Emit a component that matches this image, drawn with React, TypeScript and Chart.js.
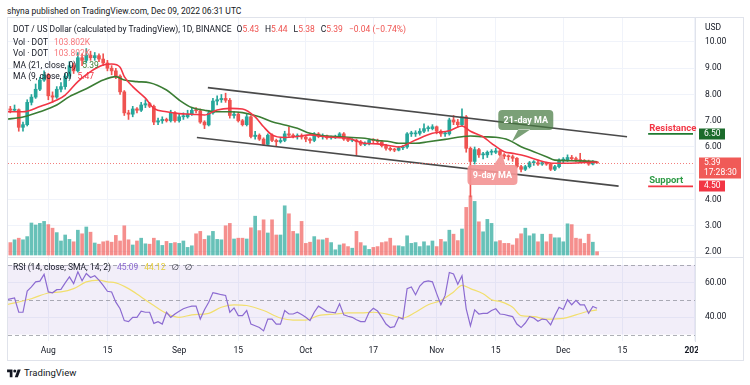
import React, { useEffect, useRef } from 'react';
import { Chart, registerables } from 'chart.js';

Chart.register(...registerables);

// ---------- DATA (days counted from Aug 1, 2022 = 0; first candle Jul 22, 2022) ----------
const FIRST_DAY = -10;
const FIRST_OPEN = 7.5;

const closes = [
  7.45, 7.40, 7.42, 6.75, 6.85, 7.70, 7.90, 8.20, 8.55, 8.75,
  7.95, 7.90, 8.20, 8.30, 8.70, 9.10, 8.90, 9.40, 9.30, 9.50,
  9.40, 9.48, 9.35, 9.20, 9.00, 8.90, 8.70, 8.10, 7.30, 7.25,
  7.45, 7.40, 7.60, 7.65, 7.55, 6.95, 7.00, 7.05, 7.00, 7.30,
  7.00, 7.15, 7.15, 7.25, 7.40, 7.38, 6.95, 6.84, 7.30, 7.75,
  7.80, 7.85, 7.78, 7.20, 7.25, 7.00, 6.85, 7.15, 6.40, 6.45,
  6.30, 6.10, 6.45, 6.25, 6.20, 6.25, 6.50, 6.45, 6.40, 6.42,
  6.38, 6.30, 6.25, 6.50, 6.40, 6.42, 6.35, 6.36, 6.40, 6.50,
  6.30, 6.25, 6.26, 6.20, 6.10, 6.12, 6.25, 6.24, 6.20, 6.05,
  5.95, 5.90, 5.88, 5.97, 6.00, 6.50, 6.50, 6.52, 6.60, 6.70,
  6.70, 6.77, 6.60, 6.50, 6.50, 7.03, 6.95, 6.85, 7.15, 5.95,
  5.45, 5.90, 5.70, 5.70, 5.80, 5.80, 5.85, 5.70, 5.65, 5.63,
  5.57, 5.25, 5.15, 5.25, 5.40, 5.40, 5.35, 5.40, 5.35, 5.15,
  5.25, 5.50, 5.50, 5.60, 5.55, 5.52, 5.47, 5.45, 5.35, 5.43,
  5.39,
];

const highs = [
  7.55, 7.55, 7.60, 7.45, 6.95, 7.80, 8.00, 8.40, 8.65, 8.90,
  8.80, 8.10, 8.30, 8.45, 8.80, 9.25, 9.20, 9.60, 9.55, 9.75,
  9.65, 9.60, 9.55, 9.55, 9.30, 9.10, 9.00, 8.75, 8.15, 7.40,
  7.55, 7.50, 7.70, 7.80, 7.70, 7.60, 7.10, 7.15, 7.10, 7.40,
  7.35, 7.25, 7.30, 7.40, 7.50, 7.50, 7.45, 7.00, 7.40, 7.85,
  7.95, 8.00, 8.05, 7.85, 7.35, 7.30, 7.05, 7.25, 7.20, 6.60,
  6.50, 6.35, 6.50, 6.50, 6.30, 6.35, 6.60, 6.77, 6.50, 6.50,
  6.50, 6.42, 6.35, 6.55, 6.55, 6.50, 6.45, 6.42, 6.45, 6.55,
  6.55, 6.35, 6.32, 6.30, 6.25, 6.20, 6.30, 6.32, 6.30, 6.25,
  6.10, 6.00, 5.95, 6.02, 6.05, 6.55, 6.60, 6.62, 6.70, 6.88,
  6.80, 6.85, 6.80, 6.65, 6.60, 7.10, 7.20, 7.05, 7.45, 7.20,
  6.00, 6.00, 5.95, 5.80, 5.85, 5.90, 5.95, 5.90, 5.75, 5.70,
  5.70, 5.60, 5.30, 5.30, 5.45, 5.48, 5.45, 5.45, 5.42, 5.38,
  5.30, 5.55, 5.60, 5.70, 5.68, 5.62, 5.76, 5.52, 5.50, 5.48,
  5.44,
];

const lows = [
  7.35, 7.30, 7.35, 6.60, 6.60, 6.80, 7.60, 7.85, 8.15, 8.50,
  7.80, 7.70, 7.85, 8.10, 8.20, 8.60, 8.80, 8.85, 9.10, 9.20,
  9.30, 9.30, 9.25, 9.10, 8.90, 8.75, 8.60, 8.00, 7.20, 7.05,
  7.15, 7.30, 7.35, 7.50, 7.50, 6.85, 6.85, 6.90, 6.95, 6.95,
  6.95, 6.95, 7.05, 7.10, 7.20, 7.30, 6.90, 6.70, 6.80, 7.25,
  7.60, 7.70, 7.70, 7.10, 7.10, 6.95, 6.80, 6.80, 6.35, 6.30,
  6.25, 6.05, 6.05, 6.20, 6.05, 6.15, 6.20, 6.40, 6.35, 6.30,
  6.30, 6.20, 6.15, 6.20, 6.35, 6.30, 6.30, 6.30, 6.32, 6.35,
  6.25, 6.20, 6.20, 5.68, 6.05, 6.05, 6.08, 6.15, 6.12, 6.00,
  5.88, 5.85, 5.82, 5.85, 5.90, 5.95, 6.40, 6.40, 6.45, 6.55,
  6.60, 6.65, 6.50, 6.40, 6.40, 6.45, 6.85, 6.75, 6.80, 5.80,
  4.10, 5.35, 5.60, 5.55, 5.60, 5.70, 5.75, 5.65, 5.55, 5.50,
  5.45, 5.20, 5.05, 5.10, 5.20, 5.30, 5.30, 5.30, 5.30, 5.10,
  5.10, 5.20, 5.40, 5.45, 5.50, 5.45, 5.40, 5.40, 5.30, 5.32,
  5.38,
];

// volume in thousands of DOT
const volumesK = [
  525, 388, 475, 525, 475, 575, 1000, 938, 988, 1050,
  950, 838, 700, 438, 625, 488, 413, 775, 663, 875,
  713, 375, 338, 413, 438, 400, 613, 438, 913, 475,
  313, 438, 525, 350, 338, 525, 450, 300, 425, 363,
  388, 363, 438, 238, 288, 663, 738, 488, 600, 738,
  488, 475, 913, 988, 500, 525, 525, 500, 850, 1213,
  763, 1100, 688, 1100, 625, 625, 1538, 1288, 738, 663,
  1050, 363, 400, 575, 475, 475, 525, 388, 163, 313,
  350, 263, 213, 738, 388, 288, 175, 238, 263, 388,
  413, 525, 288, 288, 263, 600, 363, 388, 263, 413,
  288, 438, 263, 488, 413, 775, 650, 450, 813, 1488,
  1850, 1675, 1038, 725, 1113, 988, 413, 450, 363, 363,
  313, 513, 663, 838, 600, 663, 413, 650, 413, 650,
  538, 538, 413, 975, 950, 525, 500, 363, 650, 400,
  103.802,
];

const rsiValues = [
  50, 50.5, 51, 42.8, 42.8, 55, 57.4, 60.3, 60.7, 64.6,
  54.5, 54, 55.8, 56, 59.7, 63.2, 59.3, 66.1, 60.9, 65.1,
  62.8, 63.8, 61.3, 58.3, 54.9, 54.5, 48.6, 44.8, 38, 37.4,
  39.9, 39.9, 43.4, 42.8, 42.8, 36.4, 37.4, 36, 42.8, 39.9,
  41.8, 43.4, 44.8, 45.7, 46.3, 46.3, 38.9, 44.2, 48.6, 54.1,
  53.5, 52.9, 52.5, 42.8, 45.3, 40.9, 40.9, 43.8, 36, 35,
  34, 32.1, 38.9, 38.9, 36, 36, 43.8, 41.8, 41.8, 42.8,
  41.5, 39.9, 38, 42.8, 46.3, 44.8, 43.2, 42.8, 42.4, 47.7,
  41.3, 40.5, 39.9, 38.5, 37.4, 37.4, 42.8, 45.1, 43.5, 40,
  36, 34, 34.5, 39.9, 38.9, 56.4, 57.4, 52.9, 57.9, 60.3,
  60.9, 60.3, 53.5, 47.1, 52.5, 65.7, 64.8, 58.9, 63.8, 44.8,
  35, 44.2, 41.8, 42.2, 42.2, 43.8, 44.8, 41.8, 41.5, 40.9,
  40.3, 36, 34, 36.6, 40.3, 39.5, 37.6, 38.9, 38.5, 35.6,
  40.9, 45.7, 44.4, 50, 47.1, 49.6, 47.1, 47.1, 42.2, 46.1,
  45.09,
];

const rsiSmaDays = [
  -10, -4, 0, 3, 6, 9, 12, 14, 16, 19,
  22, 25, 28, 31, 34, 38, 41, 44, 47, 51,
  55, 58, 61, 64, 68, 71, 74, 77, 81, 84,
  87, 90, 93, 96, 98, 100, 103, 105, 107, 110,
  112, 115, 118, 122, 125, 128, 130,
];
const rsiSmaValues = [
  47.1, 50.6, 53.9, 54.5, 56.4, 60.3, 61.3, 60.3, 59.7, 56.4,
  51.6, 46.7, 42.2, 39.9, 41.3, 42.2, 45.7, 47.1, 46.7, 43.8,
  39.5, 38.3, 38.3, 40.9, 41.8, 42.4, 42.4, 42.8, 41.3, 39.5,
  42.8, 47.1, 49.6, 54.5, 58.3, 56.4, 53.5, 50.0, 49.0, 45.7,
  40.9, 40.3, 38.9, 39.3, 41.3, 43.4, 44.12,
];

const ma9Days = [
  -10, -6, -2, 2, 4, 7, 10, 13, 15, 17,
  18, 20, 23, 25, 28, 31, 34, 37, 40, 43,
  46, 49, 51, 53, 56, 59, 62, 65, 68, 71,
  75, 78, 81, 83, 87, 91, 95, 98, 100, 103,
  105, 108, 110, 113, 116, 120, 123, 126, 130,
];
const ma9Values = [
  7.34, 7.34, 7.54, 7.79, 7.98, 8.49, 8.87, 9.12, 9.16, 9.04,
  8.68, 8.30, 7.86, 7.47, 7.34, 7.27, 7.25, 7.22, 7.41, 7.47,
  7.45, 7.15, 6.77, 6.46, 6.36, 6.40, 6.46, 6.40, 6.36, 6.33,
  6.14, 6.12, 6.05, 6.00, 6.27, 6.52, 6.62, 6.80, 6.60, 6.39,
  6.14, 5.82, 5.76, 5.66, 5.50, 5.38, 5.38, 5.40, 5.43,
];

const ma21Days = [
  -10, -6, -2, 2, 5, 9, 13, 16, 18, 21,
  24, 28, 31, 34, 37, 40, 43, 46, 50, 53,
  56, 59, 62, 65, 68, 72, 75, 78, 81, 83,
  87, 90, 94, 98, 100, 103, 106, 109, 112, 115,
  118, 120, 123, 126, 130,
];
const ma21Values = [
  7.06, 7.14, 7.34, 7.60, 7.92, 8.22, 8.55, 8.68, 8.55, 8.49,
  8.45, 8.17, 7.79, 7.50, 7.40, 7.34, 7.34, 7.31, 7.15, 6.96,
  6.84, 6.71, 6.52, 6.43, 6.40, 6.36, 6.33, 6.25, 6.20, 6.14,
  6.14, 6.20, 6.29, 6.39, 6.42, 6.39, 6.37, 6.27, 6.01, 5.82,
  5.63, 5.50, 5.48, 5.47, 5.44,
];

const channelUpperDays = [37.8, 137.1];
const channelUpperPrices = [8.26, 6.39];
const channelLowerDays = [35.2, 135.1];
const channelLowerPrices = [6.36, 4.51];

const timeTickDays = [0, 14, 31, 45, 61, 77, 92, 106, 122, 136, 153];
const timeTickLabels = ['Aug', '15', 'Sep', '15', 'Oct', '17', 'Nov', '15', 'Dec', '15', '2023'];
const priceTicks = [2, 3, 4, 5, 6, 7, 8, 9, 10];
const rsiTicks = [40, 60];
const rsiBandLevels = [70, 50, 30];

const RESISTANCE = 6.5;
const SUPPORT = 4.5;
const LEVEL_START_DAY = 142.1;
const COUNTDOWN = '17:28:30';
const MA21_LEGEND = '5.39';
const MA9_LEGEND = '5.47';

const CALLOUT_21 = { day: 106.6, price: 7.41, tipDay: 109.8, tipPrice: 6.2, text: '21-day MA' };
const CALLOUT_9 = { day: 99.3, price: 5.31, tipDay: 107.4, tipPrice: 5.76, text: '9-day MA' };

// ---------- derived ----------
const days = closes.map((_, i) => FIRST_DAY + i);
const opens = closes.map((_, i) => (i === 0 ? FIRST_OPEN : closes[i - 1]));
const isUp = closes.map((c, i) => c >= opens[i]);

// ---------- layout / style ----------
const FONT = "Roboto, 'DejaVu Sans', sans-serif";
const X_MIN = -9.55;
const X_MAX = 153.2;
const PRICE_MIN = 1.809;
const PRICE_MAX = 10.914;
const VOL_MIN = -62.5;
const VOL_MAX = 7406.25;
const RSI_MIN = 26.26;
const RSI_MAX = 74.03;
const AXIS_W = 48;

const UP = '#26a69a';
const DOWN = '#ef5350';
const VOL_UP = 'rgba(38,166,154,0.7)';
const VOL_DOWN = 'rgba(239,83,80,0.65)';
const GRID = '#f0f3fa';
const BORDER = '#e0e3eb';
const TEXT = '#131722';

Chart.defaults.font.family = FONT;
Chart.defaults.color = TEXT;

function rrPath(ctx: CanvasRenderingContext2D, x: number, y: number, w: number, h: number, r: number) {
  ctx.moveTo(x + r, y);
  ctx.lineTo(x + w - r, y);
  ctx.arcTo(x + w, y, x + w, y + r, r);
  ctx.lineTo(x + w, y + h - r);
  ctx.arcTo(x + w, y + h, x + w - r, y + h, r);
  ctx.lineTo(x + r, y + h);
  ctx.arcTo(x, y + h, x, y + h - r, r);
  ctx.lineTo(x, y + r);
  ctx.arcTo(x, y, x + r, y, r);
  ctx.closePath();
}

function drawCallout(
  ctx: CanvasRenderingContext2D, bx: number, by: number, w: number, h: number,
  tipX: number, tipY: number, baseFrom: number, baseTo: number, onTop: boolean,
  fill: string, text: string,
) {
  ctx.beginPath();
  rrPath(ctx, bx, by, w, h, 4);
  const ey = onTop ? by + 0.5 : by + h - 0.5;
  ctx.moveTo(bx + baseFrom, ey);
  ctx.lineTo(tipX, tipY);
  ctx.lineTo(bx + baseTo, ey);
  ctx.closePath();
  ctx.fillStyle = fill;
  ctx.fill();
  ctx.fillStyle = '#ffffff';
  ctx.font = `bold 9px ${FONT}`;
  ctx.textAlign = 'center';
  ctx.textBaseline = 'middle';
  ctx.fillText(text, bx + w / 2, by + h / 2 + 0.5);
}

function drawTag(ctx: CanvasRenderingContext2D, x: number, y: number, w: number, h: number, fill: string, lines: string[]) {
  ctx.fillStyle = fill;
  ctx.fillRect(x, y, w, h);
  ctx.fillStyle = '#ffffff';
  ctx.font = `8.5px ${FONT}`;
  ctx.textAlign = 'left';
  ctx.textBaseline = 'middle';
  lines.forEach((t, i) => ctx.fillText(t, x + 5, y + 5.5 + i * 10));
}

const priceOverlay = {
  id: 'priceOverlay',
  afterDatasetsDraw(chart: any) {
    const { ctx, chartArea, scales } = chart;
    const x = scales.x;
    const y = scales.y;
    ctx.save();
    ctx.beginPath();
    ctx.rect(chartArea.left, chartArea.top, chartArea.right - chartArea.left, chartArea.bottom - chartArea.top);
    ctx.clip();

    // last price dotted line
    const lp = y.getPixelForValue(closes[closes.length - 1]);
    ctx.setLineDash([1, 2]);
    ctx.strokeStyle = 'rgba(239,83,80,0.75)';
    ctx.lineWidth = 1;
    ctx.beginPath();
    ctx.moveTo(chartArea.left, Math.round(lp) + 0.5);
    ctx.lineTo(chartArea.right, Math.round(lp) + 0.5);
    ctx.stroke();
    ctx.setLineDash([]);

    // resistance / support levels
    const lx = x.getPixelForValue(LEVEL_START_DAY);
    const ry = y.getPixelForValue(RESISTANCE);
    const sy = y.getPixelForValue(SUPPORT);
    ctx.lineWidth = 1.6;
    ctx.strokeStyle = '#1f7a30';
    ctx.beginPath();
    ctx.moveTo(lx, ry);
    ctx.lineTo(chartArea.right - 2, ry);
    ctx.stroke();
    ctx.strokeStyle = '#f23645';
    ctx.beginPath();
    ctx.moveTo(lx, sy);
    ctx.lineTo(chartArea.right - 2, sy);
    ctx.stroke();

    // callouts
    const c21x = x.getPixelForValue(CALLOUT_21.day);
    const c21y = y.getPixelForValue(CALLOUT_21.price);
    drawCallout(ctx, c21x, c21y, 55, 20,
      x.getPixelForValue(CALLOUT_21.tipDay), y.getPixelForValue(CALLOUT_21.tipPrice),
      20, 32, false, 'rgba(72,124,66,0.72)', CALLOUT_21.text);
    const c9x = x.getPixelForValue(CALLOUT_9.day);
    const c9y = y.getPixelForValue(CALLOUT_9.price);
    drawCallout(ctx, c9x, c9y, 50, 20,
      x.getPixelForValue(CALLOUT_9.tipDay), y.getPixelForValue(CALLOUT_9.tipPrice),
      26, 38, true, 'rgba(243,150,150,0.92)', CALLOUT_9.text);
    ctx.restore();

    // level labels (may run slightly past the plot edge)
    ctx.save();
    ctx.font = `bold 9.5px ${FONT}`;
    ctx.textAlign = 'left';
    ctx.textBaseline = 'alphabetic';
    ctx.fillStyle = '#f23645';
    ctx.fillText('Resistance', lx + 1, ry - 3);
    ctx.fillStyle = '#2e9b46';
    ctx.fillText('Support', lx + 1, sy - 3);
    ctx.restore();
  },
  afterDraw(chart: any) {
    const { ctx, scales } = chart;
    const y = scales.y;
    const ax = y.left + 4;
    ctx.save();
    ctx.fillStyle = TEXT;
    ctx.font = `8.5px ${FONT}`;
    ctx.textAlign = 'left';
    ctx.textBaseline = 'middle';
    ctx.fillText('USD', y.left + 10, 10);
    drawTag(ctx, ax, Math.round(y.getPixelForValue(RESISTANCE)) - 5.5, 26, 11, '#1b6b2b', [RESISTANCE.toFixed(2)]);
    drawTag(ctx, ax, Math.round(y.getPixelForValue(closes[closes.length - 1])) - 5.5, 42, 21, '#f05a57',
      [closes[closes.length - 1].toFixed(2), COUNTDOWN]);
    drawTag(ctx, ax, Math.round(y.getPixelForValue(SUPPORT)) - 5.5, 26, 11, '#f23645', [SUPPORT.toFixed(2)]);
    ctx.restore();
  },
};

const rsiOverlay = {
  id: 'rsiOverlay',
  beforeDatasetsDraw(chart: any) {
    const { ctx, chartArea, scales } = chart;
    const y = scales.y;
    const top = y.getPixelForValue(rsiBandLevels[0]);
    const bot = y.getPixelForValue(rsiBandLevels[2]);
    ctx.save();
    ctx.fillStyle = 'rgba(126,87,194,0.1)';
    ctx.fillRect(chartArea.left, top, chartArea.right - chartArea.left, bot - top);
    ctx.strokeStyle = 'rgba(120,123,134,0.6)';
    ctx.lineWidth = 1;
    ctx.setLineDash([4, 3]);
    rsiBandLevels.forEach((lv) => {
      const py = Math.round(y.getPixelForValue(lv)) + 0.5;
      ctx.beginPath();
      ctx.moveTo(chartArea.left, py);
      ctx.lineTo(chartArea.right, py);
      ctx.stroke();
    });
    ctx.restore();
  },
  afterDraw(chart: any) {
    const { ctx, chartArea, width, height } = chart;
    ctx.save();
    ctx.fillStyle = '#ffffff';
    ctx.fillRect(chartArea.right + 3, chartArea.bottom + 1, width - chartArea.right - 3, height - chartArea.bottom - 1);
    ctx.restore();
  },
};

const xAxisBase = {
  type: 'linear' as const,
  min: X_MIN,
  max: X_MAX,
  offset: false,
  grid: { color: GRID, drawTicks: false, offset: false },
  border: { display: false },
  afterBuildTicks: (s: any) => { s.ticks = timeTickDays.map((v) => ({ value: v })); },
};

export default function App() {
  const priceRef = useRef<HTMLCanvasElement>(null);
  const rsiRef = useRef<HTMLCanvasElement>(null);

  useEffect(() => {
    const candleColors = isUp.map((u) => (u ? UP : DOWN));
    const priceChart = new Chart(priceRef.current as HTMLCanvasElement, {
      type: 'bar',
      data: {
        datasets: [
          {
            type: 'bar', label: 'Volume', yAxisID: 'yv',
            data: days.map((d, i) => ({ x: d, y: volumesK[i] })) as any,
            backgroundColor: isUp.map((u) => (u ? VOL_UP : VOL_DOWN)),
            maxBarThickness: 3, barPercentage: 1, categoryPercentage: 1, grouped: false, borderWidth: 0, order: 10,
          },
          {
            type: 'bar', label: 'Wicks', yAxisID: 'y',
            data: days.map((d, i) => ({ x: d, y: [lows[i], highs[i]] })) as any,
            backgroundColor: candleColors,
            maxBarThickness: 1, barPercentage: 1, categoryPercentage: 1, grouped: false, borderWidth: 0, order: 6,
          },
          {
            type: 'bar', label: 'Bodies', yAxisID: 'y',
            data: days.map((d, i) => ({ x: d, y: [opens[i], closes[i]] })) as any,
            backgroundColor: candleColors,
            maxBarThickness: 3, barPercentage: 1, categoryPercentage: 1, grouped: false, borderWidth: 0,
            minBarLength: 1, order: 5,
          },
          {
            type: 'line', label: 'MA 21', yAxisID: 'y',
            data: ma21Days.map((d, i) => ({ x: d, y: ma21Values[i] })) as any,
            borderColor: '#3b7d34', borderWidth: 1.6, pointRadius: 0, cubicInterpolationMode: 'monotone', order: 4,
          },
          {
            type: 'line', label: 'MA 9', yAxisID: 'y',
            data: ma9Days.map((d, i) => ({ x: d, y: ma9Values[i] })) as any,
            borderColor: '#f23645', borderWidth: 1.6, pointRadius: 0, cubicInterpolationMode: 'monotone', order: 3,
          },
          {
            type: 'line', label: 'Channel top', yAxisID: 'y',
            data: channelUpperDays.map((d, i) => ({ x: d, y: channelUpperPrices[i] })) as any,
            borderColor: '#4a4a4a', borderWidth: 1.6, pointRadius: 0, order: 2,
          },
          {
            type: 'line', label: 'Channel bottom', yAxisID: 'y',
            data: channelLowerDays.map((d, i) => ({ x: d, y: channelLowerPrices[i] })) as any,
            borderColor: '#4a4a4a', borderWidth: 1.6, pointRadius: 0, order: 2,
          },
        ] as any,
      },
      options: {
        responsive: false,
        animation: false,
        devicePixelRatio: 1,
        layout: { padding: 0, autoPadding: false } as any,
        plugins: { legend: { display: false }, tooltip: { enabled: false } },
        scales: {
          x: {
            ...xAxisBase,
            ticks: { display: false },
            afterFit: (s: any) => { s.height = 0; s.paddingLeft = 0; s.paddingRight = 0; },
          } as any,
          y: {
            type: 'linear', position: 'right', min: PRICE_MIN, max: PRICE_MAX,
            grid: { color: GRID, drawTicks: false },
            border: { display: true, color: BORDER },
            ticks: { padding: 10, color: TEXT, font: { size: 8.5 }, callback: (v: any) => Number(v).toFixed(2) },
            afterBuildTicks: (s: any) => { s.ticks = priceTicks.map((v) => ({ value: v })); },
            afterFit: (s: any) => { s.width = AXIS_W; s.paddingTop = 0; s.paddingBottom = 0; },
          } as any,
          yv: { type: 'linear', display: false, min: VOL_MIN, max: VOL_MAX } as any,
        },
      },
      plugins: [priceOverlay],
    });

    const rsiChart = new Chart(rsiRef.current as HTMLCanvasElement, {
      type: 'line',
      data: {
        datasets: [
          {
            label: 'RSI SMA',
            data: rsiSmaDays.map((d, i) => ({ x: d, y: rsiSmaValues[i] })) as any,
            borderColor: '#f2df6e', borderWidth: 1.2, pointRadius: 0, cubicInterpolationMode: 'monotone', order: 2,
          },
          {
            label: 'RSI',
            data: days.map((d, i) => ({ x: d, y: rsiValues[i] })) as any,
            borderColor: '#8c6bd1', borderWidth: 1.2, pointRadius: 0, tension: 0, order: 1,
          },
        ] as any,
      },
      options: {
        responsive: false,
        animation: false,
        devicePixelRatio: 1,
        layout: { padding: 0, autoPadding: false } as any,
        plugins: { legend: { display: false }, tooltip: { enabled: false } },
        scales: {
          x: {
            ...xAxisBase,
            position: 'bottom',
            ticks: {
              padding: 5, color: TEXT, maxRotation: 0, minRotation: 0, autoSkip: false,
              font: (c: any) => {
                const idx = timeTickDays.indexOf(c.tick ? c.tick.value : NaN);
                const bold = idx >= 0 && /^\d{4}$/.test(timeTickLabels[idx]);
                return { size: 8.5, weight: bold ? 'bold' : 'normal' };
              },
              callback: (v: any) => {
                const idx = timeTickDays.indexOf(Number(v));
                return idx >= 0 ? timeTickLabels[idx] : '';
              },
            },
            afterFit: (s: any) => { s.height = 19; s.paddingLeft = 0; s.paddingRight = 0; },
          } as any,
          y: {
            type: 'linear', position: 'right', min: RSI_MIN, max: RSI_MAX,
            grid: { color: GRID, drawTicks: false },
            border: { display: true, color: BORDER },
            ticks: { padding: 10, color: TEXT, font: { size: 8.5 }, callback: (v: any) => Number(v).toFixed(2) },
            afterBuildTicks: (s: any) => { s.ticks = rsiTicks.map((v) => ({ value: v })); },
            afterFit: (s: any) => { s.width = AXIS_W; s.paddingTop = 0; s.paddingBottom = 0; },
          } as any,
        },
      },
      plugins: [rsiOverlay],
    });

    return () => {
      priceChart.destroy();
      rsiChart.destroy();
    };
  }, []);

  const li = closes.length - 1;
  const chg = closes[li] - opens[li];
  const pct = (chg / opens[li]) * 100;
  const sign = chg < 0 ? '\u2212' : '+';
  const valColor = chg < 0 ? DOWN : UP;
  const volText = `${volumesK[li].toFixed(3)}K`;

  const legendRow = (top: number): React.CSSProperties => ({
    position: 'absolute', left: 13, top, fontSize: 8.5, lineHeight: '12px', whiteSpace: 'pre', color: TEXT,
  });

  return (
    <div style={{
      position: 'fixed', left: 0, top: 0, width: 750, height: 385, background: '#ffffff',
      overflow: 'hidden', fontFamily: FONT, color: TEXT,
    }}>
      <div style={{ position: 'absolute', left: 7, top: 5, fontSize: 8.5, lineHeight: '12px', whiteSpace: 'pre' }}>
        shyna published on TradingView.com, Dec 09, 2022 06:31 UTC
      </div>
      <div style={{
        position: 'absolute', left: 7, top: 17, width: 737, height: 344,
        border: `1px solid ${BORDER}`, boxSizing: 'border-box',
      }} />
      <canvas ref={priceRef} width={735} height={239}
        style={{ position: 'absolute', left: 8, top: 18, width: 735, height: 239 }} />
      <div style={{ position: 'absolute', left: 8, top: 257, width: 735, height: 1, background: BORDER }} />
      <canvas ref={rsiRef} width={735} height={102}
        style={{ position: 'absolute', left: 8, top: 258, width: 735, height: 102 }} />

      <div style={legendRow(23)}>
        <span>DOT / US Dollar (calculated by TradingView), 1D, BINANCE</span>
        <span style={{ marginLeft: 5 }}>O</span><span style={{ color: valColor }}>{opens[li].toFixed(2)}</span>
        <span style={{ marginLeft: 6 }}>H</span><span style={{ color: valColor }}>{highs[li].toFixed(2)}</span>
        <span style={{ marginLeft: 6 }}>L</span><span style={{ color: valColor }}>{lows[li].toFixed(2)}</span>
        <span style={{ marginLeft: 6 }}>C</span><span style={{ color: valColor }}>{closes[li].toFixed(2)}</span>
        <span style={{ marginLeft: 6, color: valColor }}>{`${sign}${Math.abs(chg).toFixed(2)} (${sign}${Math.abs(pct).toFixed(2)}%)`}</span>
      </div>
      <div style={legendRow(36)}>
        <span>Vol · DOT</span><span style={{ marginLeft: 6, color: '#f7767a' }}>{volText}</span>
      </div>
      <div style={legendRow(47)}>
        <span>Vol · DOT</span><span style={{ marginLeft: 6, color: '#f7767a' }}>{volText}</span>
      </div>
      <div style={legendRow(58.5)}>
        <span>MA (21, close, 0)</span><span style={{ marginLeft: 6, color: '#3b7d34' }}>{MA21_LEGEND}</span>
      </div>
      <div style={legendRow(70)}>
        <span>MA (9, close, 0)</span><span style={{ marginLeft: 6, color: '#f23645' }}>{MA9_LEGEND}</span>
      </div>
      <div style={legendRow(261)}>
        <span>RSI (14, close, SMA, 14, 2)</span>
        <span style={{ marginLeft: 6, color: '#8c6bd1' }}>{rsiValues[li].toFixed(2)}</span>
        <span style={{ marginLeft: 6, color: '#e3cc3c' }}>{rsiSmaValues[rsiSmaValues.length - 1].toFixed(2)}</span>
        <span style={{ marginLeft: 6 }}>∅</span>
        <span style={{ marginLeft: 6 }}>∅</span>
      </div>

      <div style={{ position: 'absolute', left: 7, top: 367, display: 'flex', alignItems: 'center' }}>
        <svg width="14" height="10" viewBox="0 0 36 26">
          <path d="M14 24H7V11H0V4h14v20zM28 24h-8l7.5-20h8L28 24z" fill={TEXT} />
          <circle cx="20" cy="8" r="4" fill={TEXT} />
        </svg>
        <span style={{ marginLeft: 3, fontSize: 9.5, lineHeight: '12px', color: TEXT }}>TradingView</span>
      </div>
    </div>
  );
}
